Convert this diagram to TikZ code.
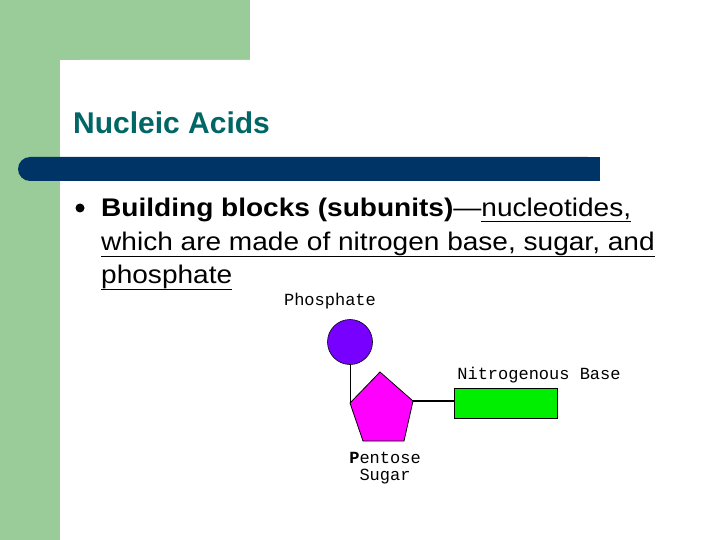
\documentclass[tikz,border=0pt]{standalone}
\usepackage{fontspec}
\usepackage{graphicx}
\setmainfont{Liberation Sans}
\newfontfamily\monof{Liberation Mono}
\definecolor{sidegreen}{RGB}{153,204,153}
\definecolor{barblue}{RGB}{0,51,102}
\definecolor{titleteal}{RGB}{0,102,102}
\definecolor{phos}{RGB}{119,0,255}
\definecolor{sugar}{RGB}{255,0,255}
\definecolor{basegreen}{RGB}{0,238,0}
\newcommand{\wide}[1]{\scalebox{1.1}[1]{#1}}
\tikzset{
  body/.style={anchor=base west, inner sep=0pt, font=\fontsize{25.5}{28}\selectfont},
  lab/.style={inner sep=0pt, font=\monof\fontsize{17}{17}\selectfont},
  shapeline/.style={draw=black, line width=0.8pt}
}
\begin{document}
\begin{tikzpicture}[x=1pt,y=-1pt]
\useasboundingbox (0,0) rectangle (720,540);
\fill[white] (0,0) rectangle (720,540);
\fill[sidegreen] (0,0) rectangle (60,540);
\fill[sidegreen] (0,0) rectangle (250,60);
\fill[white, rounded corners=20pt] (60,60) rectangle (760,600);
\fill[barblue, rounded corners=12pt] (18,157) rectangle (600,181);
\fill[barblue] (300,157) rectangle (600,181);
\node[anchor=base west, inner sep=0pt, text=titleteal, font=\bfseries\fontsize{30}{34}\selectfont] (title) at (73,134) {Nucleic Acids};
\node[circle, fill=black, minimum size=9pt, inner sep=0pt] (bul) at (80,208) {};
\node[body] (l1) at (101,217) {\wide{\textbf{Building blocks (subunits)}—\underline{nucleotides,}}};
\node[body] (l2) at (101,250) {\wide{\underline{which are made of nitrogen base, sugar, and}}};
\node[body] (l3) at (101,283) {\wide{\underline{phosphate}}};
\node[circle, fill=phos, draw=black, line width=0.6pt, minimum size=45pt, inner sep=0pt] (p) at (350,342) {};
\coordinate (pl) at (350,403);
\coordinate (pr) at (413,401);
\draw[shapeline, fill=sugar] (380,372) -- (pr) -- (404,441) -- (363,441) -- (pl) -- cycle;
\node[draw=black, fill=basegreen, line width=0.6pt, minimum width=103pt, minimum height=30pt, inner sep=0pt] (b) at (505.5,403) {};
\draw[line width=0.8pt] (p.south) -- (pl);
\draw[line width=1.2pt] (pr) -- (b.west |- pr);
\node[lab] (lp) at (330,301) {Phosphate};
\node[lab] (lb) at (539,375) {Nitrogenous Base};
\node[lab, align=center] (ls) at (385,468) {\textbf{P}entose\\Sugar};
\end{tikzpicture}
\end{document}
